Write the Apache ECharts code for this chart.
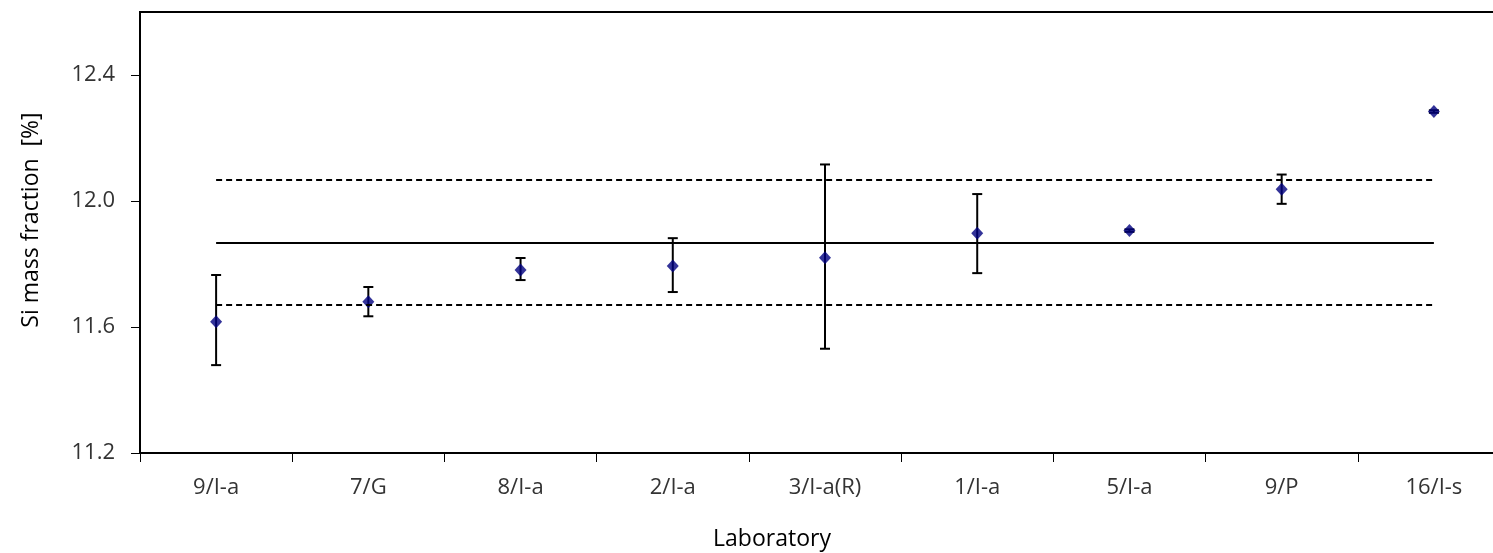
<!DOCTYPE html>
<html><head><meta charset="utf-8">
<script src="https://cdn.jsdelivr.net/npm/echarts@6/dist/echarts.min.js"></script>
<style>html,body{margin:0;padding:0;background:#fff}#c{width:1493px;height:553px}</style>
</head><body><div id="c"></div>
<script>
const categories = ['9/I-a','7/G','8/I-a','2/I-a','3/I-a(R)','1/I-a','5/I-a','9/P','16/I-s'];
const means = [11.617, 11.680, 11.781, 11.794, 11.820, 11.898, 11.906, 12.037, 12.284];
const errLow = [11.479, 11.634, 11.749, 11.711, 11.531, 11.771, 11.902, 11.991, 12.280];
const errHigh = [11.765, 11.727, 11.819, 11.882, 12.116, 12.022, 11.910, 12.084, 12.288];
const refValue = 11.867;
const refLow = 11.671;
const refHigh = 12.069;
const yTicks = [11.2, 11.6, 12.0, 12.4];

const font = 'Open Sans';
const chart = echarts.init(document.getElementById('c'));
const errData = categories.map((c, i) => [i, errLow[i], errHigh[i]]);
function hline(v, type) {
  return {
    silent: true, symbol: 'none', label: {show: false},
    lineStyle: {color: '#000', width: 2, type: type},
    data: [[{coord: [categories[0], v]}, {coord: [categories[categories.length-1], v]}]]
  };
}
chart.setOption({
  animation: false,
  grid: {left: 140, top: 12, width: 1370, height: 441, outerBoundsMode: 'none', containLabel: false,
    show: true, borderColor: '#000', borderWidth: 2, backgroundColor: 'transparent'},
  graphic: [{
    type: 'text', x: 772, y: 539,
    style: {text: 'Laboratory', fontFamily: font, fontSize: 23, fill: '#000', align: 'center', verticalAlign: 'middle'}
  }, {
    type: 'text', x: 31, y: 220, rotation: Math.PI / 2,
    style: {text: 'Si mass fraction  [%]', fontFamily: font, fontSize: 23, fill: '#000', align: 'center', verticalAlign: 'middle'}
  }],
  xAxis: {
    type: 'category', data: categories, boundaryGap: true,
    axisLine: {lineStyle: {color: '#000', width: 2}},
    axisTick: {show: true, alignWithLabel: false, length: 9, lineStyle: {color: '#000', width: 1}},
    axisLabel: {fontFamily: font, fontSize: 22, color: '#333', margin: 24},
    splitLine: {show: false}
  },
  yAxis: {
    type: 'value', min: 11.2, max: 12.6, interval: 0.4,
    axisLine: {show: true, lineStyle: {color: '#000', width: 2}},
    axisTick: {show: true, length: 9, lineStyle: {color: '#000', width: 1}, customValues: yTicks},
    axisLabel: {fontFamily: font, fontSize: 22, color: '#333', margin: 25, customValues: yTicks,
      formatter: v => v.toFixed(1)},
    splitLine: {show: false}
  },
  series: [
    {
      type: 'custom', z: 3,
      renderItem: function (params, api) {
        const x = api.value(0);
        const lo = api.coord([x, api.value(1)]);
        const hi = api.coord([x, api.value(2)]);
        const hw = 5;
        const st = {stroke: '#000', lineWidth: 2};
        return {type: 'group', children: [
          {type: 'line', shape: {x1: lo[0], y1: lo[1], x2: hi[0], y2: hi[1]}, style: st},
          {type: 'line', shape: {x1: lo[0]-hw, y1: lo[1], x2: lo[0]+hw, y2: lo[1]}, style: st},
          {type: 'line', shape: {x1: hi[0]-hw, y1: hi[1], x2: hi[0]+hw, y2: hi[1]}, style: st}
        ]};
      },
      encode: {x: 0, y: [1, 2]},
      data: errData
    },
    {
      type: 'scatter', z: 4, symbol: 'diamond', symbolSize: [12, 13],
      itemStyle: {color: '#000080'},
      data: means,
      markLine: hline(refValue, 'solid')
    },
    {type: 'line', data: [], markLine: hline(refHigh, [6, 4])},
    {type: 'line', data: [], markLine: hline(refLow, [6, 4])}
  ]
});
</script></body></html>
